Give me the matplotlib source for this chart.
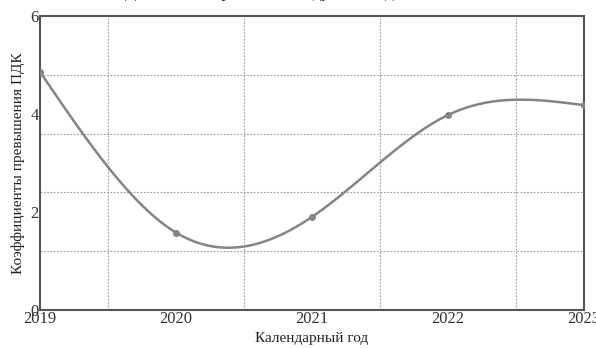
import numpy as np
import matplotlib
matplotlib.use('Agg')
from matplotlib import pyplot as plt
from matplotlib.ticker import MultipleLocator

plt.rcParams['font.family'] = ['Liberation Serif', 'DejaVu Serif']

# Coefficients by calendar year
years = [2019, 2020, 2021, 2022, 2023]
ratios = [4.86, 1.58, 1.90, 3.98, 4.18]
y_ticks = [0, 2, 4, 6]


def natural_spline(x, y, n=400):
    # natural cubic spline through the points, for a smooth line
    x = np.asarray(x, float)
    y = np.asarray(y, float)
    h = np.diff(x)
    k = len(x)
    A = np.zeros((k, k))
    b = np.zeros(k)
    A[0, 0] = A[-1, -1] = 1
    for i in range(1, k - 1):
        A[i, i - 1] = h[i - 1]
        A[i, i] = 2 * (h[i - 1] + h[i])
        A[i, i + 1] = h[i]
        b[i] = 6 * ((y[i + 1] - y[i]) / h[i] - (y[i] - y[i - 1]) / h[i - 1])
    M = np.linalg.solve(A, b)
    xs = np.linspace(x[0], x[-1], n)
    j = np.clip(np.searchsorted(x, xs) - 1, 0, k - 2)
    t0 = x[j + 1] - xs
    t1 = xs - x[j]
    ys = (M[j] * t0**3 + M[j + 1] * t1**3) / (6 * h[j]) \
        + (y[j] / h[j] - M[j] * h[j] / 6) * t0 \
        + (y[j + 1] / h[j] - M[j + 1] * h[j] / 6) * t1
    return xs, ys


fig = plt.figure(figsize=(5.96, 3.48), dpi=100)
ax = fig.add_axes([0.0671, 0.1092, 0.9128, 0.8448])

xs, ys = natural_spline(years, ratios)
ax.plot(xs, ys, color='#858585', lw=1.8, zorder=3)
ax.plot(years, ratios, 'o', color='#858585', ms=4, zorder=4)

ax.set_xlim(2019, 2023)
ax.set_ylim(0, 6)
ax.set_xticks(years)
ax.set_xticklabels([str(y) for y in years])
ax.set_yticks(y_ticks)
ax.xaxis.set_minor_locator(MultipleLocator(0.5))
ax.yaxis.set_minor_locator(MultipleLocator(1.2))
ax.grid(False)
ax.grid(which='minor', color='#999999', ls=(0, (1.5, 1.5)), lw=0.8)
ax.tick_params(which='both', length=0, labelsize=12, colors='#333333', pad=1)

for s in ax.spines.values():
    s.set_color('#555555')
    s.set_linewidth(1.5)

ax.set_xlabel('Календарный год', fontsize=11, color='#222222', labelpad=3)
ax.set_ylabel('Коэффициенты превышения ПДК', fontsize=11, color='#222222', labelpad=4)

# title sits mostly above the top edge, only descenders show
fig.text(0.45, 1.009, 'Динамика загрязнения воздуха по годам', ha='center',
         va='baseline', fontsize=12, color='#222222')

fig.savefig('out.png', dpi=100)
